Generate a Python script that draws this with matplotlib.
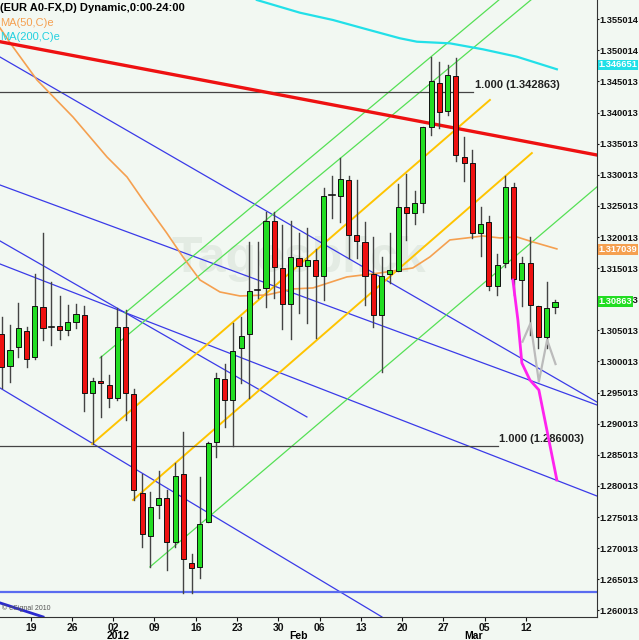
import matplotlib
matplotlib.use("Agg")
import matplotlib.pyplot as plt
import matplotlib.transforms as mtransforms
from matplotlib.patches import Rectangle
plt.rcParams['font.family'] = ['Liberation Sans', 'DejaVu Sans']

# ---- candle data (index = trading bar) ----
opens = [1.30394,1.29879,1.3019,1.30437,1.30019,1.30832,1.30511,1.30517,1.30458,1.30582,
         1.30699,1.29441,1.29643,1.29574,1.2937,1.30511,1.2943,1.27844,1.27149,1.27647,
         1.27755,1.27058,1.2814,1.2671,1.26656,1.27369,1.28654,1.29676,1.29333,1.30164,
         1.30389,1.311,1.31128,1.32214,1.31459,1.30871,1.3161,1.31486,1.31582,1.31325,
         1.32631,1.32615,1.32867,1.31984,1.31876,1.31357,1.30699,1.31357,1.31406,1.32429,
         1.32333,1.32503,1.33724,1.34421,1.33976,1.34543,1.33242,1.33136,1.32021,1.32198,
         1.31165,1.3153,1.32758,1.31261,1.3153,1.30843,1.30341,1.30832]
highs = [1.3067,1.30538,1.30892,1.30506,1.31358,1.32021,1.31234,1.31004,1.3086,1.30871,
         1.30843,1.29682,1.3004,1.29735,1.30807,1.30779,1.29505,1.28145,1.2786,1.28198,
         1.27888,1.28317,1.28815,1.26855,1.28101,1.28664,1.29763,1.29912,1.30566,1.3067,
         1.31876,1.31876,1.32358,1.32358,1.32145,1.32214,1.32011,1.32092,1.31754,1.32744,
         1.32932,1.33226,1.32932,1.32867,1.32198,1.31957,1.31635,1.32021,1.32803,1.32964,
         1.32696,1.33714,1.34839,1.34768,1.34715,1.34822,1.33563,1.33349,1.32439,1.3229,
         1.31679,1.32932,1.32815,1.31626,1.31947,1.30843,1.31234,1.3094]
lows = [1.29526,1.29623,1.30024,1.29863,1.29987,1.30297,1.30217,1.30309,1.30378,1.30485,
        1.29162,1.28622,1.29065,1.29216,1.29333,1.29012,1.27727,1.26977,1.26656,1.27433,
        1.26603,1.26977,1.26228,1.26228,1.26469,1.27369,1.28423,1.28905,1.28594,1.29602,
        1.2936,1.30967,1.30832,1.30967,1.30469,1.30309,1.30726,1.30566,1.30325,1.3094,
        1.32252,1.32198,1.3161,1.3161,1.3086,1.30501,1.29788,1.31208,1.31406,1.31904,
        1.32161,1.32349,1.3359,1.33698,1.33912,1.33178,1.32856,1.31931,1.31647,1.311,
        1.3102,1.31475,1.3102,1.30843,1.30378,1.30164,1.30164,1.30726]
closes = [1.29863,1.30141,1.30485,1.29987,1.30843,1.30495,1.30511,1.30458,1.30582,1.3071,
          1.29451,1.29643,1.29602,1.2937,1.30511,1.29441,1.27888,1.27176,1.27619,1.27764,
          1.27048,1.28117,1.26774,1.26639,1.27337,1.28638,1.29682,1.29333,1.30125,1.30361,
          1.31089,1.311,1.32214,1.31475,1.30876,1.31626,1.31486,1.31582,1.3133,1.32611,
          1.32631,1.32884,1.31984,1.31893,1.3133,1.30699,1.3133,1.31422,1.32429,1.32333,
          1.32493,1.33714,1.34463,1.33965,1.34554,1.33269,1.33145,1.32011,1.32161,1.31165,
          1.31502,1.32758,1.31272,1.3153,1.3086,1.30341,1.30807,1.30903]

# ---- indicators ----
ma50_x = [-0.21,1.37,4.27,8.63,12.75,15.17,17.1,19.98,21.95,24.01,26.43,28.85,32.12,35.27,37.69,
          41.8,45.8,49.79,51.85,54.27,56.33,58.27,60.33,62.39,64.32,67.23]
ma50_y = [1.35309,1.35004,1.34474,1.33879,1.33237,1.32916,1.32546,1.32016,1.31631,1.31261,1.31068,
          1.31004,1.3102,1.31117,1.31133,1.3131,1.31374,1.31454,1.31631,1.31904,1.31936,1.31968,
          1.31936,1.31952,1.31872,1.3176]
ma200_x = [30.9,36.11,40.11,44.22,48.22,50.28,54.27,58.27,62.39,67.23]
ma200_y = [1.35759,1.35555,1.35438,1.35288,1.35144,1.35089,1.35063,1.34967,1.34848,1.34646]
proj_x = [61.9,62.51,62.99,63.96,65.05,67.23]
proj_y = [1.31261,1.30619,1.29928,1.29655,1.29494,1.28048]
zig_x = [63.07,64.04,65.05,66.05,67.07]
zig_y = [1.3027,1.30565,1.29627,1.30297,1.2991]

# trendlines: (k1, p1, k2, p2)
red_line = [(-0.21,1.35089,72.07,1.33269)]
green_lines = [(14.93,1.30731,60.2,1.35759),(11.9,1.30008,64.08,1.35759),(17.95,1.26651,72.07,1.32755)]
gold_lines = [(10.94,1.28627,59.12,1.34153),(15.9,1.27727,64.2,1.3330)]
blue_lines = [(-0.21,1.34843,72.07,1.29301),(-0.21,1.32787,72.07,1.29253),(-0.21,1.31518,72.07,1.27791),
              (-0.21,1.31888,36.96,1.2906),(-0.21,1.29526,46.04,1.25848)]
fib_levels = [(1.342863,57.06),(1.286003,60.08)]
support_level = 1.26254

xtick_pos = [3.5+5*i for i in range(13)]
xtick_lab = ['19','26','02','09','16','23','30','06','13','20','27','05','12']
ytick_lab = ['1.260013','1.265013','1.270013','1.275013','1.280013','1.285013','1.290013','1.295013',
             '1.300013','1.305013','1.310013','1.315013','1.320013','1.325013','1.330013','1.335013',
             '1.340013','1.345013','1.350014','1.355014']

fig = plt.figure(figsize=(6.39,6.40), dpi=100)
bg = '#f2f8f2'
fig.patch.set_facecolor(bg)
ax = fig.add_axes([0,0.036,0.934,0.964])
ax.set_facecolor(bg)
XL = (-0.21, 72.07); YL = (1.25847, 1.35759)
ax.set_xlim(*XL); ax.set_ylim(*YL)

ax.text(0.5,0.58,'Tagesblick',transform=ax.transAxes,fontsize=36,fontweight='bold',
        color='#e3ebe3',ha='center',va='center',zorder=0)

for (k1,p1,k2,p2) in blue_lines:
    ax.plot([k1,k2],[p1,p2],color='#3a3ae8',lw=0.9,zorder=1)
ax.axhline(support_level,color='#5a6cf0',lw=1.6,zorder=1)
ax.plot([-0.21,5.0],[1.26073,1.25848],color='#2a2ad0',lw=2,zorder=1)
for (k1,p1,k2,p2) in green_lines:
    ax.plot([k1,k2],[p1,p2],color='#55e055',lw=0.9,zorder=1)
for (k1,p1,k2,p2) in gold_lines:
    ax.plot([k1,k2],[p1,p2],color='#ffc400',lw=1.4,zorder=1)
for lvl,kend in fib_levels:
    ax.plot([XL[0],kend],[lvl,lvl],color='#444444',lw=0.9,zorder=1)
    ax.text(kend+0.2,lvl+0.0002,'1.000 (%.6f)'%lvl,fontsize=8,fontweight='bold',
            color='#222222',va='bottom',ha='left')
ax.plot(ma50_x,ma50_y,color='#f5a050',lw=1.2,zorder=2)
ax.plot(ma200_x,ma200_y,color='#22e0e8',lw=1.6,zorder=2)
for (k1,p1,k2,p2) in red_line:
    ax.plot([k1,k2],[p1,p2],color='#ee1111',lw=2.4,zorder=2)

w = 0.62
for i,(o,h,l,c) in enumerate(zip(opens,highs,lows,closes)):
    ax.plot([i,i],[l,h],color='#444444',lw=1,zorder=3)
    col = '#22dd22' if c>=o else '#ee1111'
    lo, hi = min(o,c), max(o,c)
    if hi-lo < 0.00012:
        ax.plot([i-w/2,i+w/2],[o,o],color='#111111',lw=1.2,zorder=4)
    else:
        ax.add_patch(Rectangle((i-w/2,lo),w,hi-lo,facecolor=col,edgecolor='#111111',lw=0.7,zorder=4))

ax.plot(zig_x,zig_y,color='#bbbbbb',lw=1.6,zorder=3)
ax.plot(proj_x,proj_y,color='#ff22ee',lw=2,zorder=5)

# axes styling
for s in ['top','left']:
    ax.spines[s].set_visible(False)
ax.spines['right'].set_color('#333333'); ax.spines['bottom'].set_color('#333333')
ax.yaxis.tick_right()
yt = [float(t)-0.0005 for t in ytick_lab]
ax.set_yticks(yt); ax.set_yticklabels(ytick_lab)
ax.tick_params(axis='y',labelsize=6.7,length=1.5,pad=0.5,colors='#111111')
ax.set_xticks(xtick_pos); ax.set_xticklabels(xtick_lab)
ax.tick_params(axis='x',labelsize=7.5,length=3,pad=1,colors='#111111')
for lab in ax.get_xticklabels()+ax.get_yticklabels():
    lab.set_fontweight('bold')
trans = mtransforms.blended_transform_factory(ax.transData, ax.transAxes)
for k,t in [(14.1,'2012'),(35.9,'Feb'),(57.1,'Mar')]:
    ax.text(k,-0.031,t,transform=trans,ha='center',va='center',fontsize=7.5,fontweight='bold',clip_on=False)

# right-side value boxes
for val,fc in [('1.346651','#22e0e8'),('1.317039','#f5a050'),('1.30863','#22dd22')]:
    ax.text(1.003,float(val)+0.0005,val,transform=mtransforms.blended_transform_factory(ax.transAxes,ax.transData),
            fontsize=6.7,fontweight='bold',color='white',va='center',ha='left',clip_on=False,
            bbox=dict(boxstyle='square,pad=0.1',fc=fc,ec='none'),zorder=10)

fig.text(0.0,0.995,'(EUR A0-FX,D) Dynamic,0:00-24:00',fontsize=8,fontweight='bold',va='top',ha='left')
fig.text(0.0,0.972,'MA(50,C)e',fontsize=8,color='#f5a050',va='top',ha='left')
fig.text(0.0,0.950,'MA(200,C)e',fontsize=8,color='#22d0e0',va='top',ha='left')
ax.text(0.003,0.012,'© eSignal 2010',transform=ax.transAxes,fontsize=5,color='#555555')

fig.savefig('out.png',dpi=100,facecolor=bg)
